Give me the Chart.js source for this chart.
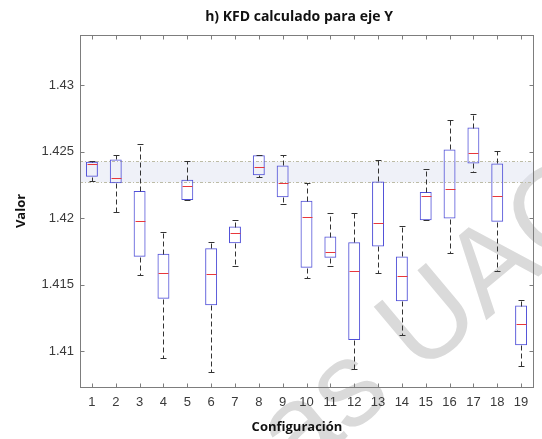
<!DOCTYPE html>
<html>
<head>
<meta charset="utf-8">
<script src="https://cdn.jsdelivr.net/npm/chart.js@4.4.0/dist/chart.umd.min.js"></script>
<style>
  html, body { margin: 0; padding: 0; background: #fff; }
  #wrap { width: 542px; height: 439px; }
</style>
</head>
<body>
<div id="wrap"><canvas id="kfdChart" width="542" height="439"></canvas></div>
<script>
// Configuraciones (eje X)
const configuraciones = ["1", "2", "3", "4", "5", "6", "7", "8", "9", "10",
                         "11", "12", "13", "14", "15", "16", "17", "18", "19"];

// Estadisticos de cada caja
const bigoteInf = [1.42278, 1.42050, 1.41570, 1.40945, 1.42138, 1.40845, 1.41638, 1.42308, 1.42105, 1.41553,
                   1.41638, 1.40863, 1.41590, 1.41125, 1.41985, 1.41738, 1.42345, 1.41600, 1.40888];
const cuartil1  = [1.42313, 1.42263, 1.41710, 1.41395, 1.42138, 1.41345, 1.41813, 1.42325, 1.42158, 1.41628,
                   1.41703, 1.41083, 1.41788, 1.41375, 1.41985, 1.41998, 1.42413, 1.41975, 1.41045];
const mediana   = [1.42408, 1.42303, 1.41978, 1.41590, 1.42245, 1.41583, 1.41893, 1.42390, 1.42265, 1.42008,
                   1.41745, 1.41600, 1.41968, 1.41565, 1.42170, 1.42218, 1.42493, 1.42168, 1.41208];
const cuartil3  = [1.42425, 1.42443, 1.42205, 1.41733, 1.42290, 1.41775, 1.41938, 1.42475, 1.42398, 1.42133,
                   1.41863, 1.41820, 1.42278, 1.41713, 1.42198, 1.42518, 1.42683, 1.42413, 1.41343];
const bigoteSup = [1.42433, 1.42475, 1.42563, 1.41900, 1.42433, 1.41820, 1.41990, 1.42475, 1.42478, 1.42263,
                   1.42038, 1.42038, 1.42440, 1.41940, 1.42373, 1.42738, 1.42783, 1.42508, 1.41388];

// Banda de referencia (limite inferior, limite superior)
const bandaRef = [1.42275, 1.42433];

// Eje Y
const ticksY = [1.41, 1.415, 1.42, 1.425, 1.43];
const rangoY = [1.4073, 1.4338];

const fuenteEjes = "'Liberation Sans', Arial, sans-serif";
const fuenteTitulos = "'Open Sans', Lato, sans-serif";

const px = v => Math.round(v) + 0.5;

const boxPlotPlugin = {
    id: "boxPlotPlugin",
    beforeDraw(chart) {
        const ctx = chart.ctx;
        ctx.save();
        ctx.fillStyle = "#ffffff";
        ctx.fillRect(0, 0, chart.width, chart.height);
        // marca de agua
        ctx.translate(297, 479);
        ctx.rotate(-40 * Math.PI / 180);
        ctx.font = "120px " + fuenteEjes;
        ctx.fillStyle = "#dadada";
        ctx.fillText("as UAC", 0, 0);
        ctx.restore();
    },
    beforeDatasetsDraw(chart) {
        const { ctx, chartArea: a, scales: { y } } = chart;
        const yTop = px(y.getPixelForValue(bandaRef[1]));
        const yBot = px(y.getPixelForValue(bandaRef[0]));
        ctx.save();
        ctx.fillStyle = "rgba(225, 229, 242, 0.55)";
        ctx.fillRect(a.left, yTop, a.right - a.left, yBot - yTop);
        ctx.strokeStyle = "#bdbca6";
        ctx.lineWidth = 1;
        ctx.setLineDash([3, 2, 1, 2]);
        [yTop, yBot].forEach(py => {
            ctx.beginPath();
            ctx.moveTo(a.left, py);
            ctx.lineTo(a.right, py);
            ctx.stroke();
        });
        ctx.restore();
    },
    afterDatasetsDraw(chart) {
        const { ctx, scales: { y } } = chart;
        const meta = chart.getDatasetMeta(0);
        ctx.save();
        ctx.lineWidth = 1;
        meta.data.forEach((bar, i) => {
            const x = px(bar.x);
            const half = bar.width / 2;
            const cap = bar.width / 4;
            const pLo = px(y.getPixelForValue(bigoteInf[i]));
            const pQ1 = px(y.getPixelForValue(cuartil1[i]));
            const pMed = px(y.getPixelForValue(mediana[i]));
            const pQ3 = px(y.getPixelForValue(cuartil3[i]));
            const pHi = px(y.getPixelForValue(bigoteSup[i]));

            // bigotes discontinuos
            ctx.strokeStyle = "#333333";
            ctx.setLineDash([5, 3]);
            ctx.beginPath();
            if (pHi < pQ3) { ctx.moveTo(x, pQ3); ctx.lineTo(x, pHi); }
            if (pLo > pQ1) { ctx.moveTo(x, pQ1); ctx.lineTo(x, pLo); }
            ctx.stroke();

            // remates
            ctx.setLineDash([]);
            ctx.beginPath();
            ctx.moveTo(x - cap, pHi); ctx.lineTo(x + cap, pHi);
            ctx.moveTo(x - cap, pLo); ctx.lineTo(x + cap, pLo);
            ctx.stroke();

            // mediana
            ctx.strokeStyle = "#e8383c";
            ctx.beginPath();
            ctx.moveTo(x - half + 1, pMed);
            ctx.lineTo(x + half - 1, pMed);
            ctx.stroke();
        });
        ctx.restore();
    },
    afterDraw(chart) {
        const { ctx, chartArea: a, scales: { x, y } } = chart;
        const left = px(a.left), right = px(a.right), top = px(a.top), bottom = px(a.bottom);
        ctx.save();
        // marco y marcas hacia dentro
        ctx.strokeStyle = "#7d7d7d";
        ctx.lineWidth = 1;
        ctx.strokeRect(left, top, right - left, bottom - top);
        ctx.beginPath();
        configuraciones.forEach((c, i) => {
            const tx = px(x.getPixelForTick(i));
            ctx.moveTo(tx, bottom); ctx.lineTo(tx, bottom - 4);
            ctx.moveTo(tx, top); ctx.lineTo(tx, top + 4);
        });
        ticksY.forEach(v => {
            const ty = px(y.getPixelForValue(v));
            ctx.moveTo(left, ty); ctx.lineTo(left + 4, ty);
            ctx.moveTo(right, ty); ctx.lineTo(right - 4, ty);
        });
        ctx.stroke();

        // titulos
        ctx.fillStyle = "#111111";
        ctx.textAlign = "center";
        ctx.textBaseline = "alphabetic";
        ctx.font = "bold 14px " + fuenteTitulos;
        ctx.fillText("h) KFD calculado para eje Y", 299, 21);
        ctx.font = "bold 13px " + fuenteTitulos;
        ctx.fillText("Configuración", 297, 431);
        ctx.translate(25, (a.top + a.bottom) / 2);
        ctx.rotate(-Math.PI / 2);
        ctx.fillText("Valor", 0, 0);
        ctx.restore();
    }
};

new Chart(document.getElementById("kfdChart").getContext("2d"), {
    type: "bar",
    data: {
        labels: configuraciones,
        datasets: [{
            label: "KFD eje Y",
            data: cuartil1.map((q, i) => [q, cuartil3[i]]),
            backgroundColor: "rgba(0, 0, 0, 0)",
            borderColor: "#5050d8",
            borderWidth: 1,
            borderSkipped: false,
            barPercentage: 0.5,
            categoryPercentage: 1
        }]
    },
    options: {
        responsive: false,
        animation: false,
        layout: { padding: { left: 0, top: 35, right: 9, bottom: 0 } },
        plugins: {
            legend: { display: false },
            tooltip: { enabled: false },
            title: { display: false }
        },
        scales: {
            x: {
                type: "category",
                offset: true,
                grid: { display: false, drawTicks: false },
                border: { display: false },
                ticks: {
                    color: "#3a3a3a",
                    font: { family: fuenteEjes, size: 13 },
                    padding: 8,
                    autoSkip: false,
                    maxRotation: 0
                },
                afterFit: s => { s.height = 52; }
            },
            y: {
                type: "linear",
                min: rangoY[0],
                max: rangoY[1],
                grid: { display: false, drawTicks: false },
                border: { display: false },
                afterBuildTicks: s => { s.ticks = ticksY.map(v => ({ value: v })); },
                ticks: {
                    color: "#3a3a3a",
                    font: { family: fuenteEjes, size: 13 },
                    padding: 6,
                    callback: v => String(+v.toFixed(3))
                },
                afterFit: s => { s.width = 80; }
            }
        }
    },
    plugins: [boxPlotPlugin]
});
</script>
</body>
</html>
